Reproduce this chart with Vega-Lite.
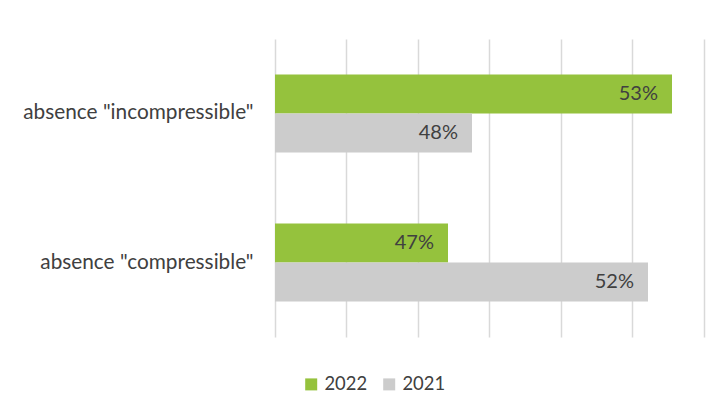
{
  "$schema": "https://vega.github.io/schema/vega-lite/v6.json",
  "autosize": {"type": "none"},
  "width": 429,
  "height": 298,
  "padding": {"left": 275, "top": 39, "right": 22, "bottom": 75},
  "background": "white",
  "config": {
    "view": {"stroke": null},
    "font": "Lato",
    "text": {"font": "Lato"}
  },
  "data": {
    "values": [
      {"category": "absence \"incompressible\"", "year": "2022", "value": 0.528},
      {"category": "absence \"incompressible\"", "year": "2021", "value": 0.478},
      {"category": "absence \"compressible\"", "year": "2022", "value": 0.472},
      {"category": "absence \"compressible\"", "year": "2021", "value": 0.522}
    ]
  },
  "encoding": {
    "y": {
      "field": "category",
      "type": "nominal",
      "sort": null,
      "scale": {"paddingInner": 0.4765, "paddingOuter": 0.238},
      "axis": {
        "title": null,
        "domain": false,
        "ticks": false,
        "grid": false,
        "labelFont": "Lato",
        "labelFontSize": 20.8,
        "labelColor": "#404040",
        "labelPadding": 22,
        "labelLimit": 300
      }
    },
    "yOffset": {
      "field": "year",
      "type": "nominal",
      "sort": ["2022", "2021"],
      "scale": {"paddingInner": 0, "paddingOuter": 0}
    },
    "x": {
      "field": "value",
      "type": "quantitative",
      "scale": {"domain": [0.42875, 0.536], "zero": false, "nice": false},
      "axis": {
        "title": null,
        "labels": false,
        "ticks": false,
        "domain": false,
        "grid": true,
        "gridColor": "#D9D9D9",
        "gridWidth": 1.5,
        "values": [0.42875, 0.446625, 0.4645, 0.482375, 0.50025, 0.518125, 0.536]
      }
    }
  },
  "layer": [
    {
      "mark": {"type": "bar", "clip": true},
      "encoding": {
        "color": {
          "field": "year",
          "type": "nominal",
          "scale": {"domain": ["2022", "2021"], "range": ["#95C23D", "#CCCCCC"]},
          "legend": {
            "title": null,
            "orient": "none",
            "legendX": 27,
            "legendY": 336,
            "direction": "horizontal",
            "symbolType": "square",
            "symbolSize": 144,
            "symbolStrokeWidth": 0,
            "labelFont": "Lato",
            "labelFontSize": 18.4,
            "labelColor": "#404040",
            "labelOffset": 4,
            "columnPadding": 12,
            "padding": 0
          }
        }
      }
    },
    {
      "mark": {"type": "text", "align": "right", "baseline": "middle", "dx": -14, "fontSize": 20, "color": "#404040", "font": "Lato"},
      "encoding": {
        "text": {"field": "value", "type": "quantitative", "format": ".0%"}
      }
    }
  ]
}
